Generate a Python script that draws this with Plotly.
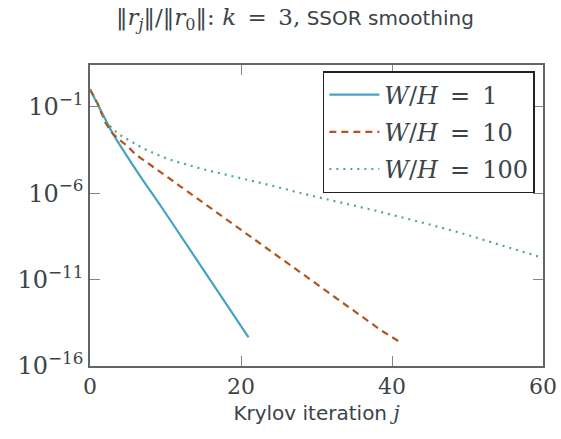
import plotly.graph_objects as go

# log10 of relative residual ||r_j||/||r_0||
iters_wh1 = list(range(0, 22))
log_res_wh1 = [0.0, -0.85, -1.75, -2.55, -3.25, -3.95, -4.6, -5.25, -5.85, -6.5,
               -7.15, -7.8, -8.45, -9.1, -9.75, -10.4, -11.05, -11.7, -12.4,
               -13.05, -13.7, -14.35]

iters_wh10 = list(range(0, 42))
log_res_wh10 = [0.0, -0.8, -1.9, -2.55, -2.95, -3.3, -3.75, -4.05, -4.37, -4.68,
                -5.0, -5.3, -5.62, -5.93, -6.24, -6.55, -6.86, -7.17, -7.48,
                -7.8, -8.11, -8.42, -8.73, -9.04, -9.35, -9.67, -9.98, -10.3,
                -10.62, -10.94, -11.25, -11.57, -11.89, -12.2, -12.52, -12.84,
                -13.15, -13.46, -13.76, -14.06, -14.34, -14.6]

iters_wh100 = list(range(0, 61))
log_res_wh100 = [0.0, -0.8, -1.8, -2.3, -2.65, -2.9, -3.15, -3.4, -3.6, -3.8,
                 -3.97, -4.12, -4.26, -4.38, -4.5, -4.62, -4.73, -4.84, -4.95,
                 -5.05, -5.15, -5.25, -5.35, -5.45, -5.55, -5.66, -5.78, -5.9,
                 -6.02, -6.12, -6.22, -6.32, -6.42, -6.52, -6.61, -6.7, -6.8,
                 -6.91, -7.03, -7.15, -7.27, -7.38, -7.48, -7.59, -7.7, -7.81,
                 -7.92, -8.03, -8.16, -8.29, -8.42, -8.55, -8.68, -8.81, -8.94,
                 -9.07, -9.2, -9.33, -9.46, -9.6, -9.75]

x_ticks = [0, 20, 40, 60]
y_tick_vals = [1e-1, 1e-6, 1e-11, 1e-16]
y_tick_text = ["10<sup>−1</sup>", "10<sup>−6</sup>", "10<sup>−11</sup>", "10<sup>−16</sup>"]

SERIF = "DejaVu Serif"
SANS = "DejaVu Sans"
TXT = "#3b4449"
AX = "#5f676c"
SP = "\u2002"

fig = go.Figure()
series = [
    (iters_wh1, log_res_wh1, f"<i>W</i>/<i>H</i>{SP}={SP}1", "#47a2c5", "solid"),
    (iters_wh10, log_res_wh10, f"<i>W</i>/<i>H</i>{SP}={SP}10", "#b3541e", "7px,5px"),
    (iters_wh100, log_res_wh100, f"<i>W</i>/<i>H</i>{SP}={SP}100", "#4dab80", "2px,5px"),
]
for i, (xs, ls, name, col, dash) in enumerate(series):
    fig.add_trace(go.Scatter(
        x=xs, y=[10 ** v for v in ls], mode="lines", name=name,
        legendgroup=f"g{i}",
        line=dict(color=col, width=2.2, dash=dash),
    ))

fig.update_layout(
    width=561, height=439,
    margin=dict(l=90, r=18, t=65, b=73),
    paper_bgcolor="white", plot_bgcolor="white",
    showlegend=True,
    font=dict(family=SERIF, color=TXT, size=22),
    title=dict(
        text=(f"<span style='font-family:{SERIF};font-size:23px'>‖<i>r<sub>j</sub></i>‖/‖<i>r</i><sub>0</sub>‖: "
              f"<i>k</i>{SP}={SP}3,</span> SSOR smoothing"),
        font=dict(family=SANS, size=20, color=TXT),
        x=295 / 561, xanchor="center", y=1 - 18 / 439, yanchor="middle",
    ),
    legend=dict(
        x=0.982, xanchor="right", y=0.98, yanchor="top",
        bgcolor="white", bordercolor="#222222", borderwidth=1.5,
        font=dict(family=SERIF, size=24, color=TXT),
        itemwidth=50, tracegroupgap=3,
    ),
    xaxis=dict(
        range=[0, 60], tickvals=x_ticks, ticks="inside", ticklen=10,
        tickcolor="#80868a", tickwidth=1.3,
        showline=True, linecolor=AX, linewidth=1.5, mirror="allticks",
        showgrid=False, zeroline=False, automargin=False,
        tickfont=dict(family=SERIF, size=22, color=TXT),
        title=dict(text=f"Krylov iteration <span style='font-family:{SERIF}'><i>j</i></span>",
                   font=dict(family=SANS, size=20, color=TXT), standoff=8),
    ),
    yaxis=dict(
        type="log", range=[-16, 1.41], tickvals=y_tick_vals, ticktext=y_tick_text,
        ticks="inside", ticklen=10, tickcolor="#80868a", tickwidth=1.3,
        showline=True, linecolor=AX, linewidth=1.5, mirror="allticks",
        showgrid=False, zeroline=False, automargin=False,
        tickfont=dict(family=SERIF, size=24, color=TXT),
    ),
)

fig.write_html("out.html", config={"displayModeBar": False},
               post_script="document.body.style.margin='0';")
